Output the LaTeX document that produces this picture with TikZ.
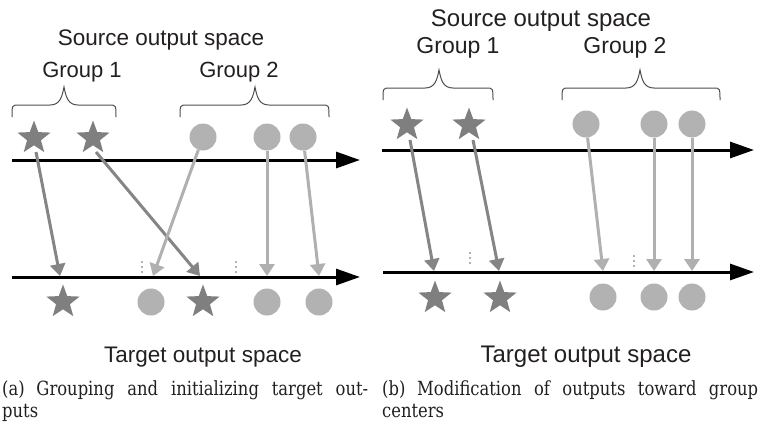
\documentclass[tikz,border=0pt]{standalone}
\usepackage{fontspec}
\setmainfont{DejaVu Serif}[FakeStretch=0.84]
\newfontfamily\labelfont{Liberation Sans}
\usetikzlibrary{arrows.meta,shapes.geometric}

\definecolor{inkdark}{HTML}{231F20}
\definecolor{stargrey}{HTML}{7F7F7F}
\definecolor{dotgrey}{HTML}{B2B2B2}
\definecolor{stararrow}{HTML}{858585}
\definecolor{dotarrow}{HTML}{B0B0B0}

\tikzset{
  starmark/.style={star, star points=5, star point ratio=2.4, minimum size=35pt,
    inner sep=0pt, fill=stargrey, draw=none},
  dotmark/.style={circle, minimum size=27pt, inner sep=0pt, fill=dotgrey, draw=none},
  axisline/.style={line width=3pt, draw=black, -{Triangle[length=24pt,width=16pt]}},
  starmove/.style={line width=3pt, draw=stararrow, -{Triangle[length=12pt,width=15pt]}},
  dotmove/.style={line width=3pt, draw=dotarrow, -{Triangle[length=12pt,width=15pt]}},
  marker/.style={draw=dotgrey, line width=2pt, dash pattern=on 2pt off 3pt},
  bracestyle/.style={draw=inkdark!80, line width=1pt},
  spacelabel/.style={font=\labelfont, text=inkdark, anchor=base, inner sep=0pt},
  caption/.style={font=\fontsize{19.5}{22}\selectfont, text=inkdark, anchor=base west,
    inner sep=0pt, align=left}
}

% curly brace: left x, right x, tip x, y of the long stroke
\newcommand\groupbrace[4]{%
  \draw[bracestyle] (#1,#4+12) .. controls (#1,#4) .. (#1+7,#4)
    -- (#3-14,#4) .. controls (#3-4,#4) and (#3-2,#4-8) .. (#3,#4-18)
    .. controls (#3+2,#4-8) and (#3+4,#4) .. (#3+14,#4)
    -- (#2-7,#4) .. controls (#2,#4) .. (#2,#4+12);}

\begin{document}
\begin{tikzpicture}[x=1pt,y=-1pt]
\useasboundingbox (0,0) rectangle (760,426);

% ---------------- panel (a) ----------------
\node[spacelabel, font=\labelfont\fontsize{22.5}{24}\selectfont] (srcA) at (161,45) {Source output space};
\node[spacelabel, font=\labelfont\fontsize{22}{24}\selectfont] (g1A) at (82,77) {Group 1};
\node[spacelabel, font=\labelfont\fontsize{22}{24}\selectfont] (g2A) at (239,77) {Group 2};
\groupbrace{12}{116}{64}{105}
\groupbrace{180}{329}{255}{105}

\coordinate (axAtopL) at (12,160);
\coordinate (axAtopR) at (360,160);
\coordinate (axAbotL) at (12,277);
\coordinate (axAbotR) at (360,277);
\draw[axisline] (axAtopL) -- (axAtopR);
\draw[axisline] (axAbotL) -- (axAbotR);

\node[starmark] (sA1) at (34,138) {};
\node[starmark] (sA2) at (93,138) {};
\node[dotmark] (cA1) at (203,137) {};
\node[dotmark] (cA2) at (267,137) {};
\node[dotmark] (cA3) at (303,137) {};

\node[starmark] (tsA1) at (63,302) {};
\node[starmark] (tsA2) at (203,302) {};
\node[dotmark] (tcA1) at (151,302) {};
\node[dotmark] (tcA2) at (267,302) {};
\node[dotmark] (tcA3) at (319,302) {};

\coordinate (eA1) at (60,276);
\coordinate (eA2) at (200,276);
\coordinate (eA3) at (153,276);
\coordinate (eA4) at (267,276);
\coordinate (eA5) at (319,276);
\coordinate (bA1) at (36,152);
\coordinate (bA2) at (96,152);
\draw[starmove] (bA1) -- (eA1);
\draw[starmove] (bA2) -- (eA2);
\draw[dotmove] (cA1) -- (eA3);
\draw[dotmove] (cA2) -- (eA4);
\draw[dotmove] (cA3) -- (eA5);

\coordinate (mA1t) at (142,261);
\coordinate (mA1b) at (142,275);
\coordinate (mA2t) at (236,261);
\coordinate (mA2b) at (236,275);
\draw[marker] (mA1t) -- (mA1b);
\draw[marker] (mA2t) -- (mA2b);

\node[spacelabel, font=\labelfont\fontsize{22.5}{24}\selectfont] (tgtA) at (203,362) {Target output space};
\node[caption] (capA) at (2,395) {\makebox[366pt][s]{(a)\hspace{0.6em}Grouping and initializing target out-}};
\node[caption] (capA2) at (2,417) {puts};

% ---------------- panel (b) ----------------
\node[spacelabel, font=\labelfont\fontsize{24}{26}\selectfont] (srcB) at (541,26) {Source output space};
\node[spacelabel, font=\labelfont\fontsize{23}{25}\selectfont] (g1B) at (458,53) {Group 1};
\node[spacelabel, font=\labelfont\fontsize{23}{25}\selectfont] (g2B) at (625,53) {Group 2};
\groupbrace{383}{493}{439}{88}
\groupbrace{562}{720}{640}{88}

\coordinate (axBtopL) at (382,150);
\coordinate (axBtopR) at (754,150);
\coordinate (axBbotL) at (383,272);
\coordinate (axBbotR) at (754,272);
\draw[axisline] (axBtopL) -- (axBtopR);
\draw[axisline] (axBbotL) -- (axBbotR);

\node[starmark] (sB1) at (407,125) {};
\node[starmark] (sB2) at (469,125) {};
\node[dotmark] (cB1) at (586,124) {};
\node[dotmark] (cB2) at (654,124) {};
\node[dotmark] (cB3) at (692,124) {};

\node[starmark] (tsB1) at (435,298) {};
\node[starmark] (tsB2) at (500,298) {};
\node[dotmark] (tcB1) at (603,297) {};
\node[dotmark] (tcB2) at (654,297) {};
\node[dotmark] (tcB3) at (692,297) {};

\coordinate (bB1) at (410,140);
\coordinate (bB2) at (473,140);
\coordinate (eB1) at (434,271);
\coordinate (eB2) at (499,271);
\coordinate (eB3) at (603,271);
\coordinate (eB4) at (654,271);
\coordinate (eB5) at (692,271);
\draw[starmove] (bB1) -- (eB1);
\draw[starmove] (bB2) -- (eB2);
\draw[dotmove] (cB1) -- (eB3);
\draw[dotmove] (cB2) -- (eB4);
\draw[dotmove] (cB3) -- (eB5);

\coordinate (mB1t) at (470,252);
\coordinate (mB1b) at (470,266);
\coordinate (mB2t) at (634,255);
\coordinate (mB2b) at (634,269);
\draw[marker] (mB1t) -- (mB1b);
\draw[marker] (mB2t) -- (mB2b);

\node[spacelabel, font=\labelfont\fontsize{24}{26}\selectfont] (tgtB) at (586,362) {Target output space};
\node[caption] (capB) at (382,395) {\makebox[376pt][s]{(b)\hspace{0.6em}Modification of outputs toward group}};
\node[caption] (capB2) at (382,417) {centers};
\end{tikzpicture}
\end{document}
